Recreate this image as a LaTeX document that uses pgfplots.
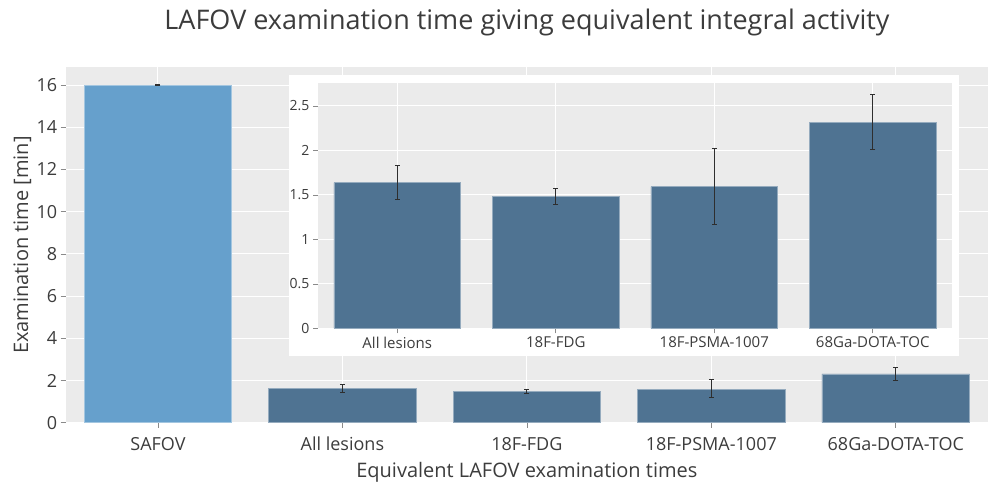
\documentclass[border=0pt]{standalone}
\usepackage{fontspec}
\setmainfont{Open Sans}
\usepackage{pgfplots}
\pgfplotsset{compat=1.18}
\usepackage{pgfplotstable}
\definecolor{bgray}{HTML}{EBEBEB}
\definecolor{lblue}{HTML}{66A0CC}
\definecolor{dblue}{HTML}{4F7392}
\definecolor{txt}{HTML}{3C3C3C}
\definecolor{errc}{HTML}{2E2E2E}

\pgfplotstableread{
x y ep em
0 16 0.02 0.02
}\safov
\pgfplotstableread{
x y ep em
1 1.636 0.188 0.187
2 1.479 0.094 0.086
3 1.591 0.433 0.420
4 2.316 0.311 0.304
}\lafov
\pgfplotstableread{
x y ep em
0 1.636 0.188 0.187
1 1.479 0.094 0.086
2 1.591 0.433 0.420
3 2.316 0.311 0.304
}\inset

\pgfplotsset{
  common/.style={
    scale only axis,
    axis background/.style={fill=bgray},
    axis line style={draw=none},
    tick pos=left,
    tick align=outside,
    major tick length=5pt,
    tick style={color=txt!60, line width=0.6pt},
    grid=major,
    grid style={white, line width=1pt},
    ticklabel style={text=txt},
    /pgf/number format/assume math mode=true,
    xtick=data,
    ymin=0,
  },
  errb/.style={
    error bars/.cd, y dir=both, y explicit,
    error bar style={color=errc, line width=1pt},
    error mark options={rotate=90, mark size=2.5pt, line width=1pt, color=errc},
  },
}

\begin{document}
\begin{tikzpicture}[x=1pt,y=1pt]
\useasboundingbox (0,0) rectangle (990,482);
\node[text=txt, font=\fontsize{27}{30}\selectfont] at (527,460) {LAFOV examination time giving equivalent integral activity};

\begin{axis}[common,
  at={(65.7pt,59.3pt)}, anchor=south west,
  width=922.3pt, height=355.4pt,
  xmin=-0.5, xmax=4.5, ymax=16.84,
  xtick={0,1,2,3,4},
  xticklabels={SAFOV, All lesions, 18F-FDG, 18F-PSMA-1007, 68Ga-DOTA-TOC},
  ytick={0,2,...,16},
  ticklabel style={font=\fontsize{18}{20}\selectfont},
  xticklabel style={yshift=-6pt},
  ylabel={Examination time [min]},
  xlabel={Equivalent LAFOV examination times},
  label style={font=\fontsize{20}{22}\selectfont, text=txt},
  ylabel style={at={(axis description cs:0,0.5)}, anchor=south, yshift=31pt},
  xlabel style={at={(axis description cs:0.5,0)}, anchor=north, yshift=-36pt},
]
\addplot[ybar, bar width=0.8, fill=lblue, draw=lblue!60!white, line width=0.5pt, errb]
  table[x=x, y=y, y error plus=ep, y error minus=em] {\safov};
\addplot[ybar, bar width=0.8, fill=dblue, draw=dblue!60!white, line width=0.5pt, errb]
  table[x=x, y=y, y error plus=ep, y error minus=em] {\lafov};
\end{axis}

\fill[white] (289,126) rectangle (959,407);

\begin{axis}[common,
  at={(318pt,153.7pt)}, anchor=south west,
  width=634pt, height=245.6pt,
  xmin=-0.5, xmax=3.5, ymax=2.76,
  xtick={0,1,2,3},
  xticklabels={All lesions, 18F-FDG, 18F-PSMA-1007, 68Ga-DOTA-TOC},
  ytick={0,0.5,1,1.5,2,2.5},
  xticklabel style={font=\fontsize{15}{17}\selectfont},
  yticklabel style={font=\fontsize{14}{16}\selectfont},
]
\addplot[ybar, bar width=0.8, fill=dblue, draw=dblue!60!white, line width=0.5pt, errb]
  table[x=x, y=y, y error plus=ep, y error minus=em] {\inset};
\end{axis}
\end{tikzpicture}
\end{document}
